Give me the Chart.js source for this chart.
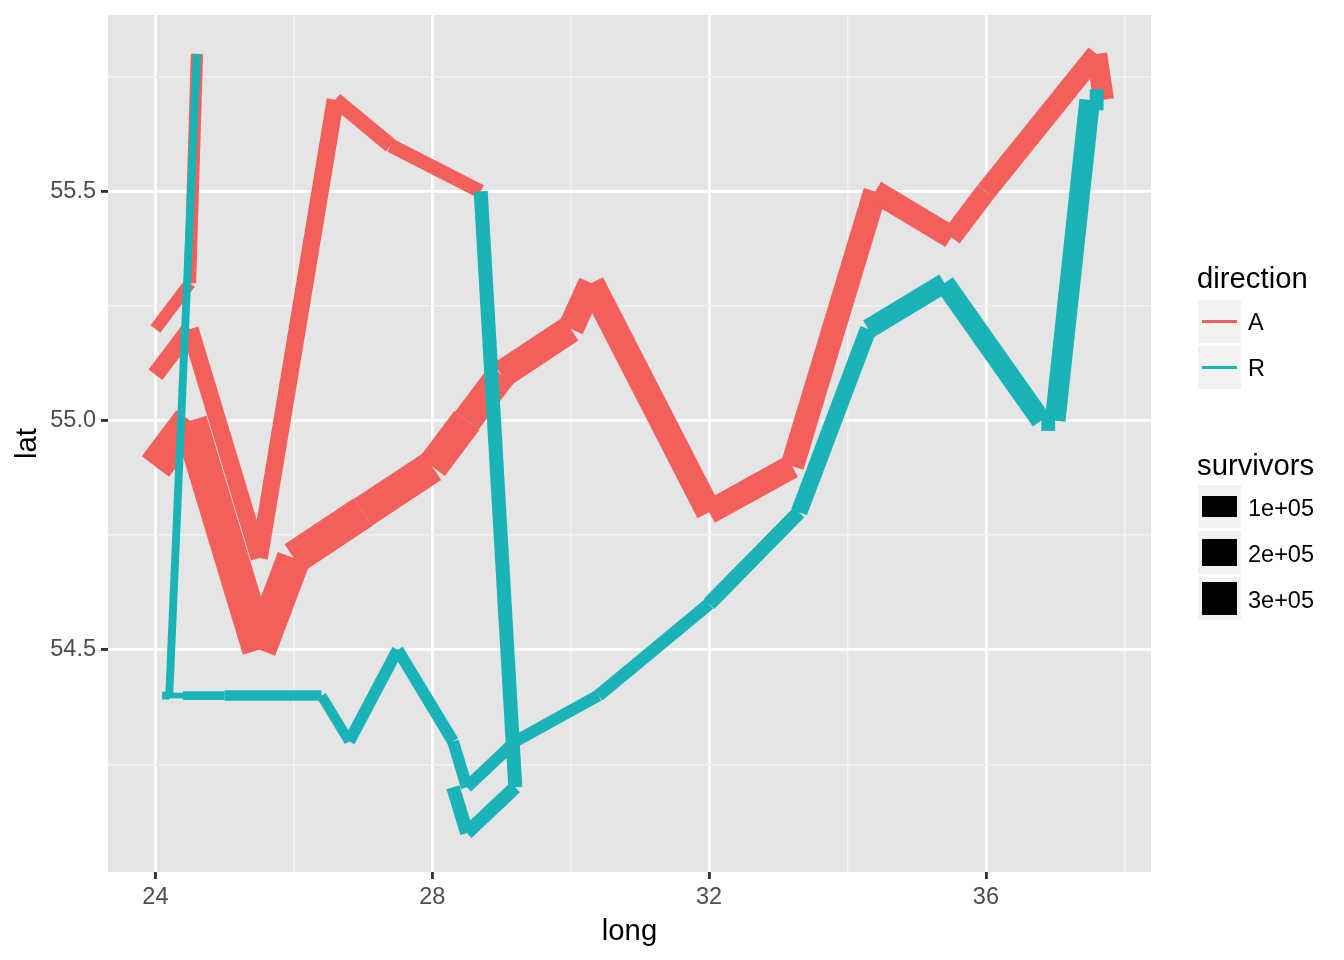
<!DOCTYPE html>
<html><head><meta charset="utf-8">
<script src="https://cdn.jsdelivr.net/npm/chart.js@4.4.1/dist/chart.umd.min.js"></script>
<style>
body{margin:0;background:#fff;}
#wrap{position:relative;width:1344px;height:960px;font-family:"Liberation Sans",Arial,sans-serif;}
canvas{position:absolute;left:0;top:0;}
.t{position:absolute;white-space:nowrap;color:#000;}
.key{position:absolute;background:#F2F2F2;}
.glyph{position:absolute;}
</style></head><body>
<div id="wrap"><canvas id="c" width="1344" height="960"></canvas><div id="legend"></div></div>
<script>
// Minard troops data
const long = [24.0,24.5,25.5,26.0,27.0,28.0,28.5,29.0,30.0,30.3,32.0,33.2,34.4,35.5,36.0,37.6,37.7,37.5,37.0,36.8,35.4,34.3,33.3,32.0,30.4,29.2,28.5,28.3,27.5,26.8,26.4,25.0,24.4,24.2,24.1,
              24.0,24.5,25.5,26.6,27.4,28.7,29.2,28.5,28.3,
              24.0,24.5,24.6,24.6,24.2,24.1];
const lat = [54.9,55.0,54.5,54.7,54.8,54.9,55.0,55.1,55.2,55.3,54.8,54.9,55.5,55.4,55.5,55.8,55.7,55.7,55.0,55.0,55.3,55.2,54.8,54.6,54.4,54.3,54.2,54.3,54.5,54.3,54.4,54.4,54.4,54.4,54.4,
             55.1,55.2,54.7,55.7,55.6,55.5,54.2,54.1,54.2,
             55.2,55.3,55.8,55.8,54.4,54.4];
const survivors = [340000,340000,340000,320000,300000,280000,240000,210000,180000,175000,145000,140000,127100,100000,100000,100000,100000,98000,97000,96000,87000,55000,37000,24000,20000,20000,20000,20000,20000,12000,14000,8000,4000,4000,4000,
                   60000,60000,60000,40000,33000,33000,30000,30000,28000,
                   22000,22000,6000,6000,6000,6000];
const direction = ['A','A','A','A','A','A','A','A','A','A','A','A','A','A','A','A','R','R','R','R','R','R','R','R','R','R','R','R','R','R','R','R','R','R','R',
                   'A','A','A','A','A','R','R','R','R',
                   'A','A','R','R','R','R'];
const group = [1,1,1,1,1,1,1,1,1,1,1,1,1,1,1,1,1,1,1,1,1,1,1,1,1,1,1,1,1,1,1,1,1,1,1,
               2,2,2,2,2,2,2,2,2,
               3,3,3,3,3,3];

const xMajor = [24, 28, 32, 36];
const xMinor = [26, 30, 34, 38];
const yMajor = [54.5, 55.0, 55.5];
const yMinor = [54.25, 54.75, 55.25, 55.75];
const dirLevels = ['A', 'R'];
const sizeBreaks = [100000, 200000, 300000];
const sizeLabels = ['1e+05', '2e+05', '3e+05'];

const colors = {A: '#F3605B', R: '#19B3B8'};
const FONT = '"Liberation Sans", Arial, sans-serif';
const sMin = Math.min(...survivors), sMax = Math.max(...survivors);
const PX_PER_MM = 72.27 / 25.4 * 2;
function widthPx(s) { return (1 + 5 * Math.sqrt((s - sMin) / (sMax - sMin))) * PX_PER_MM; }

const datasets = [];
let k = 0;
for (let i = 0; i < long.length - 1; i++) {
  if (group[i] !== group[i + 1]) continue;
  datasets.push({
    data: [{x: long[i], y: lat[i]}, {x: long[i + 1], y: lat[i + 1]}],
    borderColor: colors[direction[i]],
    borderWidth: widthPx(survivors[i]),
    borderCapStyle: 'butt',
    pointRadius: 0, pointHoverRadius: 0,
    tension: 0, fill: false, clip: false,
    order: -k
  });
  k++;
}

const xr = [Math.min(...long), Math.max(...long)], yr = [Math.min(...lat), Math.max(...lat)];
const xPad = (xr[1] - xr[0]) * 0.05, yPad = (yr[1] - yr[0]) * 0.05;

const isMaj = (arr, v) => arr.some(m => Math.abs(m - v) < 1e-9);

const bgPlugin = {
  id: 'panelbg',
  beforeDraw(chart) {
    const {ctx, chartArea: a} = chart;
    ctx.save(); ctx.fillStyle = '#E5E5E5';
    ctx.fillRect(a.left, a.top, a.right - a.left, a.bottom - a.top);
    ctx.restore();
  }
};

function gridOpts(major) {
  return {
    color: c => (c.tick && isMaj(major, c.tick.value)) ? '#FFFFFF' : '#F2F2F2',
    lineWidth: c => (c.tick && isMaj(major, c.tick.value)) ? 2.85 : 1.42,
    tickColor: c => (c.tick && isMaj(major, c.tick.value)) ? '#333333' : 'rgba(0,0,0,0)',
    tickWidth: 2.85,
    tickLength: 7,
    drawOnChartArea: true
  };
}

new Chart(document.getElementById('c'), {
  type: 'line',
  data: {datasets},
  plugins: [bgPlugin],
  options: {
    responsive: false, animation: false, devicePixelRatio: 1,
    layout: {padding: {left: 0, top: 15, right: 193, bottom: 0}},
    plugins: {legend: {display: false}, tooltip: {enabled: false}},
    events: [],
    scales: {
      x: {
        type: 'linear', min: xr[0] - xPad, max: xr[1] + xPad,
        afterBuildTicks: ax => { ax.ticks = [...xMajor, ...xMinor].sort((a, b) => a - b).map(v => ({value: v})); },
        ticks: {callback: v => isMaj(xMajor, v) ? String(v) : '', color: '#4D4D4D', font: {size: 23.5, family: FONT}, padding: 4, maxRotation: 0, autoSkip: false},
        grid: gridOpts(xMajor),
        border: {display: false},
        title: {display: true, text: 'long', color: '#000', font: {size: 29.3, family: FONT}, padding: {top: 0, bottom: 11}},
        afterFit: s => { s.height = 88; s.paddingLeft = 0; s.paddingRight = 0; }
      },
      y: {
        type: 'linear', min: yr[0] - yPad, max: yr[1] + yPad,
        afterBuildTicks: ax => { ax.ticks = [...yMajor, ...yMinor].sort((a, b) => a - b).map(v => ({value: v})); },
        ticks: {callback: v => isMaj(yMajor, v) ? v.toFixed(1) : '', color: '#4D4D4D', font: {size: 23.5, family: FONT}, padding: 5, autoSkip: false},
        grid: gridOpts(yMajor),
        border: {display: false},
        title: {display: true, text: 'lat', color: '#000', font: {size: 29.3, family: FONT}, padding: {top: 10, bottom: 0}},
        afterFit: s => { s.width = 108; s.paddingTop = 0; s.paddingBottom = 0; }
      }
    }
  }
});

// Legend (HTML)
const leg = document.getElementById('legend');
function text(str, left, top, size, lh) {
  const d = document.createElement('div');
  d.className = 't'; d.textContent = str;
  d.style.left = left + 'px'; d.style.top = top + 'px';
  d.style.fontSize = size + 'px'; d.style.lineHeight = lh + 'px';
  leg.appendChild(d);
}
function box(cls, left, top, w, h, bg) {
  const d = document.createElement('div');
  d.className = cls;
  d.style.left = left + 'px'; d.style.top = top + 'px';
  d.style.width = w + 'px'; d.style.height = h + 'px';
  if (bg) d.style.background = bg;
  leg.appendChild(d);
}
text('direction', 1197, 261, 29.3, 34);
dirLevels.forEach((d, i) => {
  const top = 300 + i * 46;
  box('key', 1198, top, 43, 43);
  const cy = top + 21.5;
  box('glyph', 1202, cy - 1.42, 35, 2.85, colors[d]);
  text(d, 1248, cy - 12.1, 23.5, 27);
});
text('survivors', 1197, 447.5, 29.3, 34);
sizeBreaks.forEach((s, i) => {
  const top = 485 + i * 46;
  box('key', 1198, top, 43, 43);
  const cy = top + 21.5;
  const w = widthPx(s);
  box('glyph', 1202, cy - w / 2, 35, w, '#000');
  text(sizeLabels[i], 1248, cy - 11.3, 23.5, 27);
});
</script>
</body></html>
